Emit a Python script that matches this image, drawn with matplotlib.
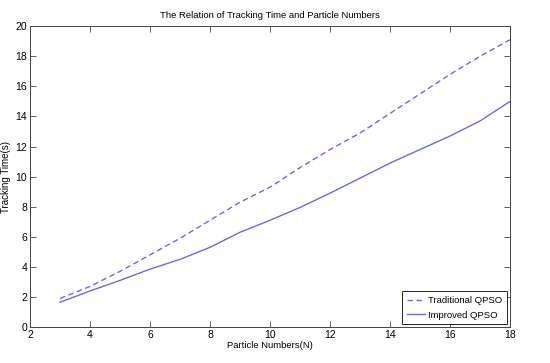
import matplotlib
matplotlib.use("Agg")
import matplotlib.pyplot as plt

particles = [3, 4, 5, 6, 7, 8, 9, 10, 11, 12, 13, 14, 15, 16, 17, 18]
traditional = [1.9, 2.7, 3.7, 4.8, 5.9, 7.1, 8.3, 9.3, 10.6, 11.8, 12.9, 14.2, 15.5, 16.8, 18.0, 19.1]
improved = [1.65, 2.4, 3.1, 3.85, 4.5, 5.3, 6.3, 7.1, 7.95, 8.9, 9.9, 10.9, 11.8, 12.7, 13.7, 15.0]
xticks = [2, 4, 6, 8, 10, 12, 14, 16, 18]
yticks = [0, 2, 4, 6, 8, 10, 12, 14, 16, 18, 20]

plt.rcParams['font.family'] = ['Liberation Sans', 'DejaVu Sans']
fig = plt.figure(figsize=(5.5, 3.63), dpi=100)
ax = fig.add_axes([0.0545, 0.099, 0.873, 0.829])
color = '#6a6ae0'
ax.plot(particles, traditional, '--', color=color, lw=1.0, dashes=(4, 2.5), label='Traditional QPSO')
ax.plot(particles, improved, '-', color=color, lw=1.0, label='Improved QPSO')
ax.set_xlim(2, 18)
ax.set_ylim(0, 20)
ax.set_xticks(xticks)
ax.set_yticks(yticks)
ax.tick_params(direction='in', top=True, right=True, labelsize=7.5, length=4, width=0.6, color='#444444', pad=2)
for s in ax.spines.values():
    s.set_linewidth(0.7)
    s.set_color('#444444')
ax.set_title('The Relation of Tracking Time and Particle Numbers', fontsize=6.8, pad=6)
ax.set_xlabel('Particle Numbers(N)', fontsize=6.8, labelpad=1)
ax.set_ylabel('Tracking Time(s)', fontsize=7, labelpad=3)
leg = ax.legend(loc='lower right', fontsize=6.8, fancybox=False, edgecolor='#222222',
                framealpha=1, handlelength=2.0, handletextpad=0.3, borderpad=0.5,
                labelspacing=0.6, borderaxespad=0.3)
leg.get_frame().set_linewidth(0.7)
fig.savefig('out.png', dpi=100)
